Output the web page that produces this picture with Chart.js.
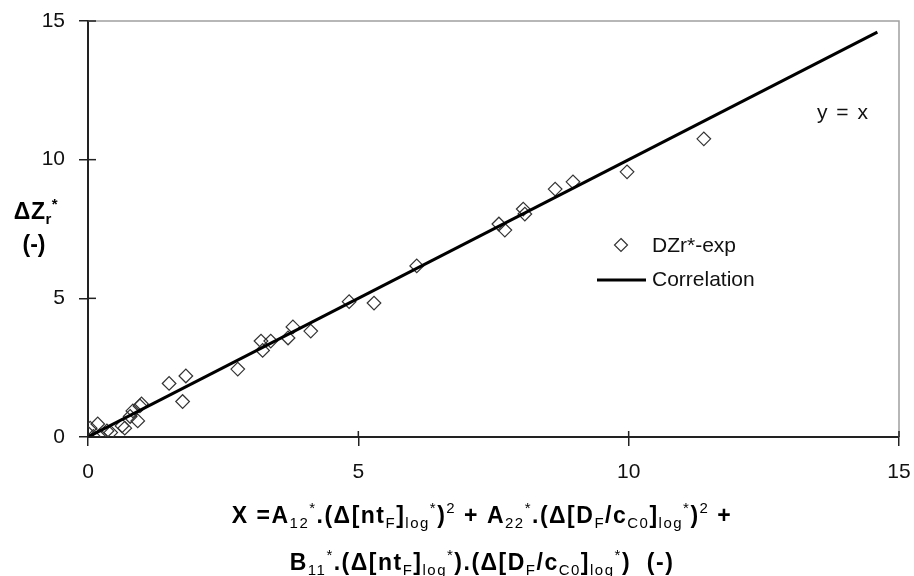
<!DOCTYPE html>
<html><head><meta charset="utf-8">
<script src="https://cdn.jsdelivr.net/npm/chart.js@4/dist/chart.umd.min.js"></script>
<style>html,body{margin:0;padding:0;background:#fff}canvas{display:block}</style>
</head><body>
<canvas id="c" width="914" height="576"></canvas>
<script>
// ---- data ----
const expX = [0.00, 0.04, 0.10, 0.18, 0.22, 0.35, 0.42, 0.63, 0.68, 0.78, 0.83, 0.92, 0.96, 0.99,
              1.50, 1.75, 1.81, 2.77, 3.20, 3.23, 3.38, 3.70, 3.79, 4.12, 4.83, 5.29, 6.08,
              7.60, 7.71, 8.05, 8.08, 8.64, 8.97, 9.97, 11.39];
const expY = [0.14, 0.32, 0.02, 0.47, 0.05, 0.22, 0.16, 0.40, 0.32, 0.74, 0.94, 0.58, 1.12, 1.19,
              1.93, 1.28, 2.20, 2.45, 3.46, 3.12, 3.46, 3.57, 3.97, 3.82, 4.88, 4.83, 6.17,
              7.68, 7.46, 8.22, 8.04, 8.94, 9.20, 9.56, 10.75];
const corrX = [0, 14.6];
const corrY = [0, 14.6];
const xTicks = [0, 5, 10, 15];
const yTicks = [0, 5, 10, 15];
const seriesNames = ['DZr*-exp', 'Correlation'];
const noteText = 'y = x';

const FAM = '"Liberation Sans", Arial, sans-serif';

function drawRich(ctx, segs, cx, y, main, small, subDy, supDy, spacing) {
  ctx.letterSpacing = (spacing || 0) + 'px';
  let total = 0;
  const parts = segs.map(([t, k]) => {
    ctx.font = (k === 'sub' || k === 'sup') ? small : main;
    const w = ctx.measureText(t).width; total += w; return {t, k, w};
  });
  let x = cx - total / 2;
  ctx.textAlign = 'left'; ctx.textBaseline = 'alphabetic';
  for (const p of parts) {
    ctx.font = (p.k === 'sub' || p.k === 'sup') ? small : main;
    const dy = p.k === 'sub' ? subDy : (p.k === 'sup' ? -supDy : 0);
    ctx.fillText(p.t, x, y + dy); x += p.w;
  }
  ctx.letterSpacing = '0px';
}

const decor = {
  id: 'decor',
  afterDraw(chart) {
    const {ctx, chartArea: a, scales: {x, y}} = chart;
    ctx.save();
    // frame top & right
    ctx.strokeStyle = '#a0a0a0'; ctx.lineWidth = 1.5;
    ctx.beginPath();
    ctx.moveTo(a.left, a.top); ctx.lineTo(a.right, a.top); ctx.lineTo(a.right, a.bottom);
    ctx.stroke();
    // inner tick parts
    ctx.strokeStyle = '#222'; ctx.lineWidth = 1.5;
    xTicks.forEach(v => { const px = x.getPixelForValue(v); ctx.beginPath(); ctx.moveTo(px, a.bottom); ctx.lineTo(px, a.bottom - 6); ctx.stroke(); });
    yTicks.forEach(v => { const py = y.getPixelForValue(v); ctx.beginPath(); ctx.moveTo(a.left, py); ctx.lineTo(a.left + 8, py); ctx.stroke(); });
    // legend
    ctx.fillStyle = '#111'; ctx.font = '21px ' + FAM; ctx.textAlign = 'left'; ctx.textBaseline = 'middle';
    ctx.strokeStyle = '#333'; ctx.lineWidth = 1.2;
    ctx.beginPath(); ctx.moveTo(621, 238.5); ctx.lineTo(627.5, 245); ctx.lineTo(621, 251.5); ctx.lineTo(614.5, 245); ctx.closePath(); ctx.stroke();
    ctx.fillText(seriesNames[0], 652, 246);
    ctx.strokeStyle = '#000'; ctx.lineWidth = 3;
    ctx.beginPath(); ctx.moveTo(597, 280); ctx.lineTo(646, 280); ctx.stroke();
    ctx.fillText(seriesNames[1], 652, 280);
    ctx.letterSpacing = '1.5px';
    ctx.fillText(noteText, 817, 113);
    ctx.letterSpacing = '0px';
    // y title
    ctx.fillStyle = '#000';
    const mb = 'bold 23px ' + FAM, sm = '15px ' + FAM, smb = 'bold 15px ' + FAM;
    drawRich(ctx, [['\u0394Z', 'n'], ['r', 'sub'], ['*', 'sup']], 36, 219, mb, smb, 5, 10, 0.5);
    ctx.font = mb; ctx.textAlign = 'center'; ctx.textBaseline = 'alphabetic';
    ctx.fillText('(-)', 34, 252);
    // x title
    const l1 = [['X =A', 'n'], ['12', 'sub'], ['*', 'sup'], ['.(\u0394[nt', 'n'], ['F', 'sub'], [']', 'n'], ['log', 'sub'], ['*', 'sup'], [')', 'n'], ['2', 'sup'],
                [' + A', 'n'], ['22', 'sub'], ['*', 'sup'], ['.(\u0394[D', 'n'], ['F', 'sub'], ['/c', 'n'], ['C0', 'sub'], [']', 'n'], ['log', 'sub'], ['*', 'sup'], [')', 'n'], ['2', 'sup'], [' +', 'n']];
    const l2 = [['B', 'n'], ['11', 'sub'], ['*', 'sup'], ['.(\u0394[nt', 'n'], ['F', 'sub'], [']', 'n'], ['log', 'sub'], ['*', 'sup'], [').(\u0394[D', 'n'], ['F', 'sub'], ['/c', 'n'], ['C0', 'sub'], [']', 'n'], ['log', 'sub'], ['*', 'sup'], [')  (-)', 'n']];
    drawRich(ctx, l1, 482, 523, mb, sm, 5, 10, 1.5);
    drawRich(ctx, l2, 482, 570, mb, sm, 5, 10, 1.5);
    ctx.restore();
  }
};

new Chart(document.getElementById('c'), {
  type: 'scatter',
  data: {
    datasets: [
      { label: seriesNames[1], data: corrX.map((v, i) => ({x: v, y: corrY[i]})), showLine: true,
        borderColor: '#000', borderWidth: 3, pointRadius: 0, fill: false },
      { label: seriesNames[0], data: expX.map((v, i) => ({x: v, y: expY[i]})),
        pointStyle: 'rectRot', pointRadius: 6.8, pointBorderWidth: 1.2,
        pointBorderColor: '#333', pointBackgroundColor: 'rgba(255,255,255,0)', showLine: false }
    ]
  },
  options: {
    responsive: false, animation: false,
    layout: { padding: { top: 21, right: 15, left: 0, bottom: 0 } },
    plugins: { legend: { display: false }, tooltip: { enabled: false } },
    scales: {
      x: {
        type: 'linear', min: 0, max: 15,
        afterBuildTicks: s => { s.ticks = xTicks.map(v => ({value: v})); },
        afterFit: s => { s.height = 139; s.paddingLeft = 0; s.paddingRight = 0; },
        grid: { drawOnChartArea: false, tickLength: 9, color: '#222', lineWidth: 1.5 },
        border: { color: '#222', width: 2 },
        ticks: { font: { family: FAM, size: 21 }, color: '#111', padding: 14, maxRotation: 0 }
      },
      y: {
        type: 'linear', min: 0, max: 15,
        afterBuildTicks: s => { s.ticks = yTicks.map(v => ({value: v})); },
        afterFit: s => { s.width = 88; s.paddingTop = 0; s.paddingBottom = 0; },
        grid: { drawOnChartArea: false, tickLength: 9, color: '#222', lineWidth: 1.5 },
        border: { color: '#222', width: 2 },
        ticks: { font: { family: FAM, size: 21 }, color: '#111', padding: 14 }
      }
    }
  },
  plugins: [decor]
});
</script>
</body></html>
